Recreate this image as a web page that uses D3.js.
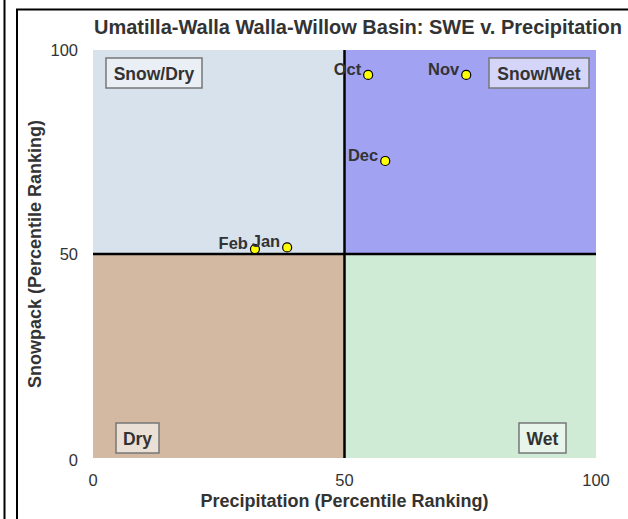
<!DOCTYPE html>
<html>
<head>
<meta charset="utf-8">
<script src="https://d3js.org/d3.v7.min.js"></script>
<style>
  body { margin: 0; background: #fff; }
  svg { display: block; font-family: "Liberation Sans", Arial, sans-serif; }
</style>
</head>
<body>
<svg id="chart" width="628" height="519"></svg>
<script>
// Data
const months = ['Oct', 'Nov', 'Dec', 'Jan', 'Feb'];
const precip = [54.7, 74.2, 58.1, 38.6, 32.2];
const snowpack = [93.9, 93.9, 72.8, 51.6, 51.2];
const xTicks = [0, 50, 100];
const yTicks = [0, 50, 100];

const quadrants = [
  { name: 'Snow/Dry', x0: 0, x1: 50, y0: 50, y1: 100, fill: '#d7e2ec', box: '#e9eff5' },
  { name: 'Snow/Wet', x0: 50, x1: 100, y0: 50, y1: 100, fill: '#a2a2f3', box: '#d5d5fa' },
  { name: 'Dry', x0: 0, x1: 50, y0: 0, y1: 50, fill: '#d3b9a1', box: '#ebe0d6' },
  { name: 'Wet', x0: 50, x1: 100, y0: 0, y1: 50, fill: '#cfebd6', box: '#e8f5ea' }
];

const svg = d3.select('#chart');
const textColor = '#333';

// Frame lines
svg.append('line').attr('x1', 4.5).attr('x2', 4.5).attr('y1', 0).attr('y2', 519)
  .attr('stroke', '#000').attr('stroke-width', 2);
svg.append('path').attr('d', 'M17,519V9.5H628')
  .attr('fill', 'none').attr('stroke', '#000').attr('stroke-width', 2);

// Scales
const x = d3.scaleLinear().domain([0, 100]).range([93, 596]);
const y = d3.scaleLinear().domain([0, 100]).range([458, 50]);

// Quadrant backgrounds
svg.append('g').selectAll('rect')
  .data(quadrants)
  .enter()
  .append('rect')
  .attr('x', d => x(d.x0))
  .attr('y', d => y(d.y1))
  .attr('width', d => x(d.x1) - x(d.x0))
  .attr('height', d => y(d.y0) - y(d.y1))
  .attr('fill', d => d.fill);

// Center lines
svg.append('line')
  .attr('x1', x(50)).attr('x2', x(50)).attr('y1', y(100)).attr('y2', y(0))
  .attr('stroke', '#000').attr('stroke-width', 2.5);
svg.append('line')
  .attr('x1', x(0)).attr('x2', x(100)).attr('y1', y(50)).attr('y2', y(50))
  .attr('stroke', '#000').attr('stroke-width', 2.5);

// Quadrant label boxes
const labelBoxes = [
  { q: 0, left: x(0) + 13, top: y(100) + 8, w: 96 },
  { q: 1, left: x(100) - 107, top: y(100) + 8, w: 100 },
  { q: 2, left: x(0) + 23, top: y(0) - 35, w: 43 },
  { q: 3, left: x(100) - 77, top: y(0) - 35, w: 47 }
];
const boxG = svg.append('g').selectAll('g')
  .data(labelBoxes)
  .enter()
  .append('g');
boxG.append('rect')
  .attr('x', d => d.left)
  .attr('y', d => d.top)
  .attr('width', d => d.w)
  .attr('height', 30)
  .attr('fill', d => quadrants[d.q].box)
  .attr('stroke', '#777')
  .attr('stroke-width', 1.5);
boxG.append('text')
  .attr('x', d => d.left + d.w / 2)
  .attr('y', d => d.top + 21.5)
  .attr('text-anchor', 'middle')
  .attr('font-size', '17.5px')
  .attr('font-weight', 'bold')
  .attr('fill', textColor)
  .text(d => quadrants[d.q].name);

// Axes tick labels
svg.append('g').selectAll('text')
  .data(xTicks)
  .enter()
  .append('text')
  .attr('x', d => x(d))
  .attr('y', 486)
  .attr('text-anchor', 'middle')
  .attr('font-size', '16.5px')
  .attr('fill', textColor)
  .text(d => d);

svg.append('g').selectAll('text')
  .data(yTicks)
  .enter()
  .append('text')
  .attr('x', 78)
  .attr('y', d => d === 0 ? 466 : y(d) + 6)
  .attr('text-anchor', 'end')
  .attr('font-size', '16.5px')
  .attr('fill', textColor)
  .text(d => d);

// Axis titles
svg.append('text')
  .attr('x', x(50))
  .attr('y', 507)
  .attr('text-anchor', 'middle')
  .attr('font-size', '18px')
  .attr('font-weight', 'bold')
  .attr('fill', textColor)
  .text('Precipitation (Percentile Ranking)');

svg.append('text')
  .attr('transform', `translate(41, ${y(50)}) rotate(-90)`)
  .attr('text-anchor', 'middle')
  .attr('font-size', '18px')
  .attr('font-weight', 'bold')
  .attr('fill', textColor)
  .text('Snowpack (Percentile Ranking)');

// Title
svg.append('text')
  .attr('x', 358)
  .attr('y', 34)
  .attr('text-anchor', 'middle')
  .attr('font-size', '20px')
  .attr('font-weight', 'bold')
  .attr('fill', textColor)
  .text('Umatilla-Walla Walla-Willow Basin: SWE v. Precipitation');

// Points
const pts = months.map((m, i) => ({ month: m, px: precip[i], sw: snowpack[i] }));

svg.append('g').selectAll('circle')
  .data(pts)
  .enter()
  .append('circle')
  .attr('cx', d => x(d.px))
  .attr('cy', d => y(d.sw))
  .attr('r', 4.5)
  .attr('fill', '#ffff00')
  .attr('stroke', '#000')
  .attr('stroke-width', 1.2);

svg.append('g').selectAll('text')
  .data(pts)
  .enter()
  .append('text')
  .attr('x', d => x(d.px) - 7)
  .attr('y', d => y(d.sw))
  .attr('text-anchor', 'end')
  .attr('font-size', '16.5px')
  .attr('font-weight', 'bold')
  .attr('fill', textColor)
  .text(d => d.month);
</script>
</body>
</html>
